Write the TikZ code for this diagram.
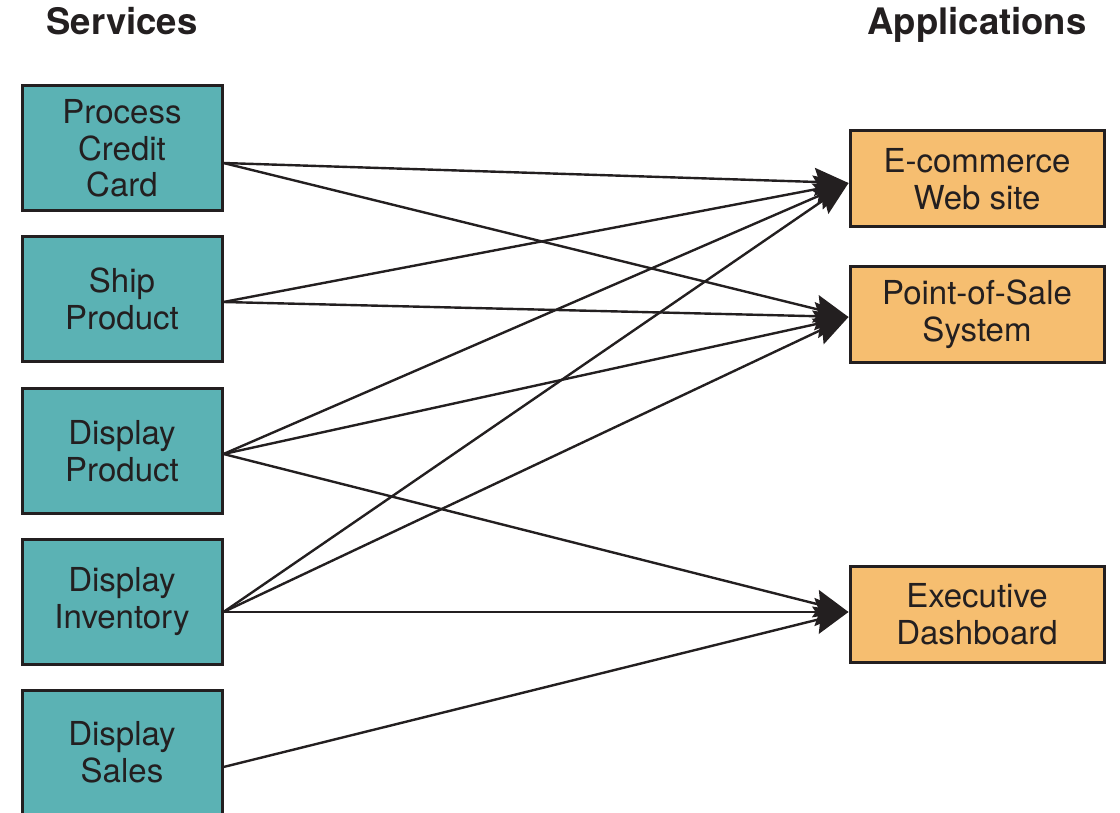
\documentclass[tikz,border=0pt]{standalone}
\usepackage{fontspec}
\setmainfont{TeX Gyre Heros}
\usetikzlibrary{arrows.meta}
\definecolor{svcfill}{RGB}{91,178,180}
\definecolor{appfill}{RGB}{246,190,112}
\definecolor{ink}{RGB}{35,31,32}
\begin{document}
\begin{tikzpicture}[x=1pt,y=-1pt,
  box/.style={draw=ink, line width=3pt, inner sep=0pt, align=center, text=ink,
              font=\fontsize{33}{36.5}\selectfont},
  svc/.style={box, fill=svcfill, minimum width=200pt, minimum height=125pt},
  app/.style={box, fill=appfill, minimum width=254pt, minimum height=96pt},
  head/.style={font=\bfseries\fontsize{36.5}{40}\selectfont, text=ink, anchor=base, inner sep=0pt},
  link/.style={draw=ink, line width=2.4pt, -{Stealth[length=34pt,width=28pt,inset=5pt]}}]
\clip (0,0) rectangle (1120,813);

% column headings
\node[head] (hsvc) at (122,35) {Services};
\node[head] (happ) at (977,35) {Applications};

% services
\node[svc] (s1) at (122,148.5) {Process\\Credit\\Card};
\node[svc] (s2) at (122,299)   {Ship\\Product};
\node[svc] (s3) at (122,451)   {Display\\Product};
\node[svc] (s4) at (122,601.5) {Display\\Inventory};
\node[svc] (s5) at (122,752.5) {Display\\Sales};

% applications
\node[app] (a1) at (977,179)   {E-commerce\\Web site};
\node[app] (a2) at (977,314.5) {Point-of-Sale\\System};
\node[app] (a3) at (977,614)   {Executive\\Dashboard};

% service-to-application links
\draw[link] ([yshift=-14.5pt]s1.east) -- ([yshift=-4pt]a1.west);
\draw[link] ([yshift=-14.5pt]s1.east) -- ([yshift=-2.5pt]a2.west);
\draw[link] ([yshift=-3pt]s2.east) -- ([yshift=-4pt]a1.west);
\draw[link] ([yshift=-3pt]s2.east) -- ([yshift=-2.5pt]a2.west);
\draw[link] ([yshift=-3pt]s3.east) -- ([yshift=-4pt]a1.west);
\draw[link] ([yshift=-3pt]s3.east) -- ([yshift=-2.5pt]a2.west);
\draw[link] ([yshift=-3pt]s3.east) -- ([yshift=2pt]a3.west);
\draw[link] ([yshift=-10.5pt]s4.east) -- ([yshift=-4pt]a1.west);
\draw[link] ([yshift=-10.5pt]s4.east) -- ([yshift=-2.5pt]a2.west);
\draw[link] ([yshift=-10.5pt]s4.east) -- ([yshift=2pt]a3.west);
\draw[link] ([yshift=-14.5pt]s5.east) -- ([yshift=2pt]a3.west);
\end{tikzpicture}
\end{document}
